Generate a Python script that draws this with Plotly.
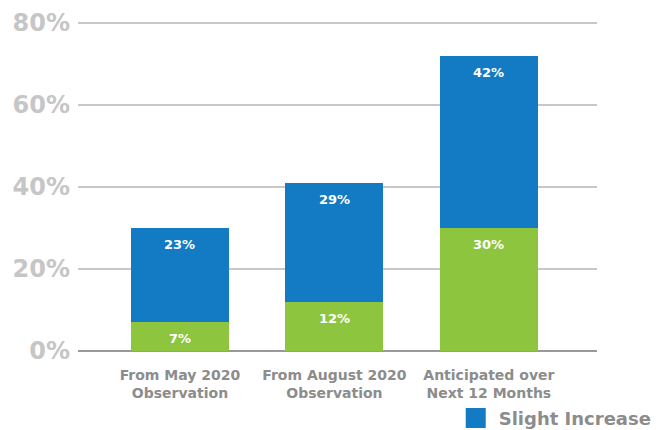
import plotly.graph_objects as go

# Share of respondents by period, stacked: moderate (green) under slight (blue)
categories = ["From May 2020<br>Observation",
              "From August 2020<br>Observation",
              "Anticipated over<br>Next 12 Months"]
moderate_increase = [7, 12, 30]
slight_increase = [23, 29, 42]

y_ticks = [0, 20, 40, 60, 80]
y_tick_labels = ["0%", "20%", "40%", "60%", "80%"]

BLUE = "#137bc4"
GREEN = "#8dc53f"
FONT = "DejaVu Sans"

fig = go.Figure()
fig.add_trace(go.Bar(
    x=categories, y=moderate_increase, name="Moderate Increase",
    marker=dict(color=GREEN, line=dict(width=0)), width=0.634,
    showlegend=False, hoverinfo="skip",
))
fig.add_trace(go.Bar(
    x=categories, y=slight_increase, name="Slight Increase",
    marker=dict(color=BLUE, line=dict(width=0)), width=0.634,
    showlegend=False, hoverinfo="skip",
))
# legend entry with a larger square swatch
fig.add_trace(go.Scatter(
    x=[None], y=[None], mode="markers", name="Slight Increase",
    marker=dict(symbol="square", size=16, color=BLUE,
                line=dict(color=BLUE, width=4)),
    showlegend=True,
))

# value labels just inside the top of each segment
for i, cat in enumerate(categories):
    g = moderate_increase[i]
    b = slight_increase[i]
    for top, val in ((g, g), (g + b, b)):
        fig.add_annotation(
            x=cat, y=top, text=f"{val}%", showarrow=False,
            yanchor="top", yshift=-7,
            font=dict(family=FONT, size=13, color="white", weight="bold"),
        )

fig.update_layout(
    width=665, height=430,
    margin=dict(l=78, r=68, t=21, b=79, autoexpand=False),
    paper_bgcolor="white", plot_bgcolor="white",
    barmode="stack", bargap=0.37,
    font=dict(family=FONT),
    legend=dict(
        x=0.722, y=-0.148, xanchor="left", yanchor="top",
        font=dict(family=FONT, size=18, color="#8c8c8c", weight="bold"),
        bgcolor="rgba(0,0,0,0)", itemsizing="trace", itemwidth=36,
    ),
    xaxis=dict(
        range=[-0.66, 2.70], showgrid=False, zeroline=False, showline=False,
        ticks="", ticklabelstandoff=14,
        tickfont=dict(family=FONT, size=14, color="#8c8c8c", weight="bold"),
    ),
    yaxis=dict(
        range=[0, 80.5], tickvals=y_ticks, ticktext=y_tick_labels,
        showgrid=True, gridcolor="#c8c8c8", gridwidth=2,
        zeroline=True, zerolinecolor="#999999", zerolinewidth=2,
        showline=False, ticks="", ticklabelstandoff=7,
        tickfont=dict(family=FONT, size=24, color="#c6c6c6", weight="bold"),
    ),
)

fig.write_html("out.html")
